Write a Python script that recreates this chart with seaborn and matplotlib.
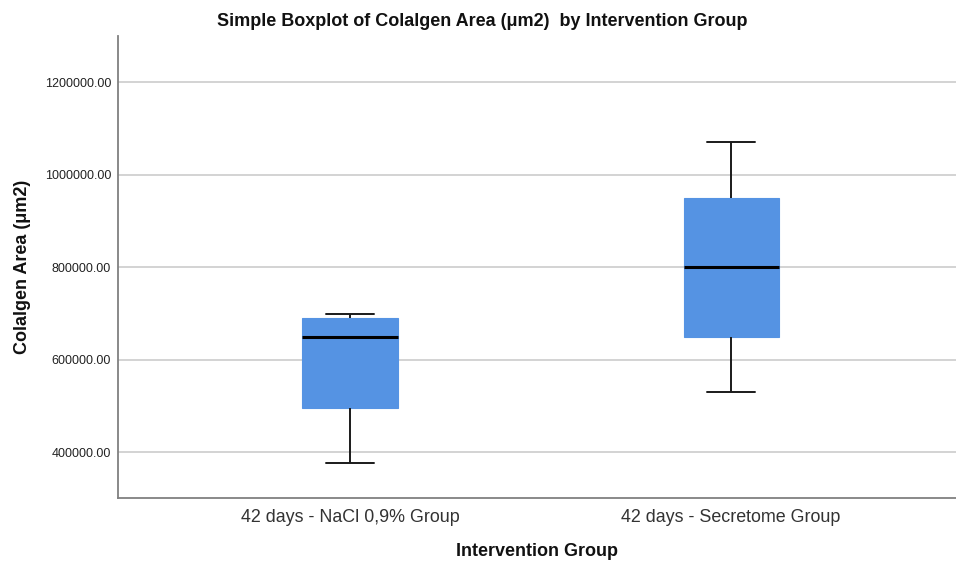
import matplotlib
matplotlib.use("Agg")
import matplotlib.pyplot as plt
import seaborn as sns
import pandas as pd

# Five-number summaries per group (min, Q1, median, Q3, max)
groups = ["42 days - NaCl 0,9% Group", "42 days - Secretome Group"]
nacl_values = [377000, 494600, 648300, 690900, 698000]
secretome_values = [530200, 648200, 800000, 949600, 1069800]
y_ticks = [400000, 600000, 800000, 1000000, 1200000]
y_tick_labels = [f"{v:.2f}" for v in y_ticks]

df = pd.DataFrame({
    "Intervention Group": [groups[0]] * len(nacl_values) + [groups[1]] * len(secretome_values),
    "Colalgen Area": nacl_values + secretome_values,
})

sns.set_theme(style="white")
plt.rcParams["font.family"] = ["Liberation Sans", "DejaVu Sans"]

fig = plt.figure(figsize=(9.56, 5.63), dpi=100)
ax = fig.add_axes([118 / 956, 1 - 498.3 / 563, (956 - 118) / 956, (498.3 - 36) / 563])

box_color = "#5593E3"
sns.boxplot(
    data=df, x="Intervention Group", y="Colalgen Area", ax=ax,
    order=groups, width=0.25, color=box_color, saturation=1,
    linecolor="black", linewidth=1.3, whis=10,
    boxprops=dict(edgecolor=box_color, linewidth=0.8),
    medianprops=dict(color="black", linewidth=2.2),
    whiskerprops=dict(color="#1a1a1a", linewidth=1.4),
    capprops=dict(color="#1a1a1a", linewidth=1.4),
)

ax.set_ylim(300000, 1300000)
ax.set_xlim(-0.609, 1.59)
ax.set_yticks(y_ticks)
ax.set_yticklabels(y_tick_labels, fontsize=9.0, color="#222222")
ax.tick_params(axis="x", labelsize=12.9, colors="#333333", length=0, pad=8)
ax.tick_params(axis="y", length=0, pad=5)

ax.yaxis.grid(True, color="#CCCCCC", linewidth=1.2)
ax.set_axisbelow(True)

for side in ["top", "right"]:
    ax.spines[side].set_visible(False)
for side in ["left", "bottom"]:
    ax.spines[side].set_color("#808080")
    ax.spines[side].set_linewidth(1.3)

ax.set_xlabel("Intervention Group", fontsize=13, fontweight="bold", color="#111111")
ax.xaxis.set_label_coords(0.5, (498.3 - 543) / 462.3)
ax.set_ylabel("Colalgen Area (μm2)", fontsize=13, fontweight="bold", color="#111111")
ax.yaxis.set_label_coords((31 - 118) / 838, 0.5)
fig.text(482.5 / 956, 1 - 21 / 563, "Simple Boxplot of Colalgen Area (μm2)  by Intervention Group",
         ha="center", va="center", fontsize=13, fontweight="bold", color="#111111")

fig.savefig("out.png", dpi=100, facecolor="white")
